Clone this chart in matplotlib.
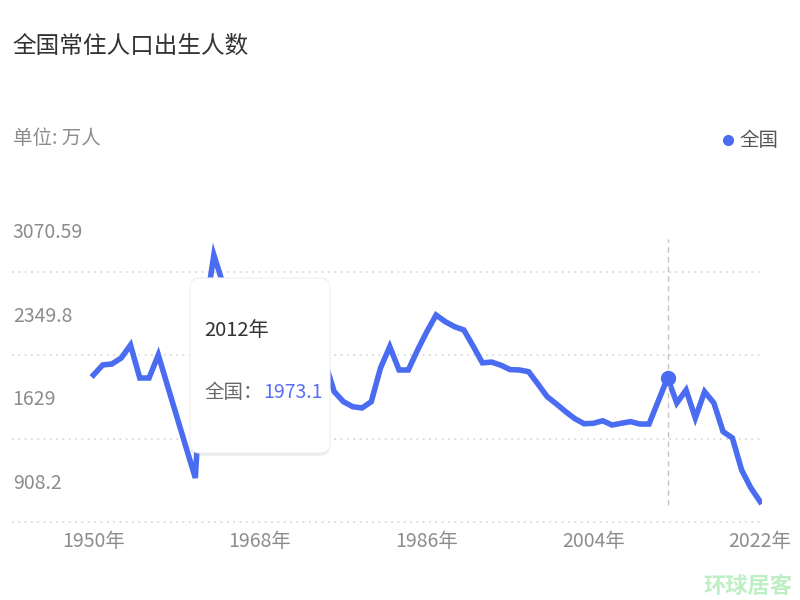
import matplotlib
matplotlib.use("Agg")
import matplotlib.pyplot as plt
from matplotlib.lines import Line2D
from matplotlib.patches import FancyBboxPatch
from matplotlib import transforms
import matplotlib.patheffects as pe

plt.rcParams['font.family'] = ['Noto Sans CJK SC', 'DejaVu Sans']

# 全国常住人口出生人数（万人），1950-2022
years = list(range(1950, 2023))
births = [1997, 2077, 2085, 2133, 2236, 1973, 1973, 2157, 1910, 1665,
          1420, 1176, 2460, 2954, 2720, 2700, 2555, 2545, 2730, 2690,
          2710, 2550, 2550, 2450, 2225, 2100, 1864, 1784, 1744, 1734,
          1784, 2053, 2223, 2037, 2037, 2196, 2342, 2475, 2422, 2382,
          2356, 2228, 2094, 2100, 2075, 2040, 2037, 2023, 1925, 1824,
          1766, 1704, 1648, 1608, 1612, 1632, 1598, 1612, 1625, 1606,
          1606, 1790, 1973.1, 1774, 1877, 1654, 1864, 1774, 1545, 1495,
          1239, 1096, 987]
ytick_vals = [908.2, 1629, 2349.8, 3070.59]
ytick_text = ['908.2', '1629', '2349.8', '3070.59']
xtick_vals = [1950, 1968, 1986, 2004, 2022]
tip_year = 2012
series_name = '全国'

line_color = '#4a6cf0'
fig = plt.figure(figsize=(8, 6), dpi=100)
fig.set_facecolor('white')

# grid axis (labels sit above their dotted lines like the original)
ax_g = fig.add_axes([0.015, 0.125, 0.9375, 0.5417])
ax_g.set_xlim(1941.2, 2022.2)
ax_g.set_ylim(882.3, 3693.4)
ax_g.set_yticks(ytick_vals)
ax_g.set_yticklabels([])
ax_g.yaxis.grid(True, color='#d9d9d9', linestyle=(0, (1, 2.5)), linewidth=1.3)
ax_g.tick_params(axis='y', length=0)
ax_g.set_xticks(xtick_vals)
ax_g.set_xticklabels([f'{y}年' for y in xtick_vals], fontsize=14, color='#8c8c8c')
ax_g.tick_params(axis='x', length=0, pad=4)
for s in ax_g.spines.values():
    s.set_visible(False)

lab_trans = transforms.blended_transform_factory(ax_g.transAxes, ax_g.transData) \
    + transforms.ScaledTranslation(0, 0.39, fig.dpi_scale_trans)
for v, t in zip(ytick_vals, ytick_text):
    ax_g.text(0.001, v, t, transform=lab_trans, ha='left', va='center',
              fontsize=14, color='#8c8c8c')

# line axis
ax = ax_g.twinx()
ax.set_ylim(800.8, 3392.6)
ax.axis('off')
ax.plot(years, births, color=line_color, linewidth=4.0, solid_joinstyle='miter')
ax.axvline(tip_year, ymin=0.0615, ymax=0.88, color='#c4c4c4', linestyle=(0, (4, 3)), linewidth=1)
tip_val = births[years.index(tip_year)]
ax.plot([tip_year], [tip_val], 'o', color=line_color, markersize=10)

# tooltip
box = FancyBboxPatch((190, 147), 140, 175, boxstyle='round,pad=0,rounding_size=10',
                     transform=transforms.IdentityTransform(), facecolor='white',
                     edgecolor='#f0f0f0', linewidth=0.8, zorder=5,
                     path_effects=[pe.SimplePatchShadow(offset=(0, -2), shadow_rgbFace='#999999', alpha=0.18),
                                   pe.Normal()])
fig.add_artist(box)
fig.text(0.255, 0.45, f'{tip_year}年', fontsize=14.5, color='#333333', va='center', zorder=6)
fig.text(0.255, 0.345, f'{series_name}：', fontsize=14, color='#666666', va='center', zorder=6)
fig.text(0.329, 0.345, f'{tip_val}', fontsize=14, color='#5a6ef5', va='center', zorder=6)

# titles
fig.text(0.016, 0.922, '全国常住人口出生人数', fontsize=17, color='#333333', va='center')
fig.text(0.016, 0.77, '单位: 万人', fontsize=14, color='#8c8c8c', va='center')

# legend
handle = Line2D([], [], marker='o', linestyle='', color=line_color, markersize=7, label=series_name)
leg = fig.legend(handles=[handle], loc='center right', bbox_to_anchor=(0.995, 0.765),
                 frameon=False, handletextpad=0.1, handlelength=1.0, fontsize=14)
for t in leg.get_texts():
    t.set_color('#555555')

# watermark
fig.text(0.935, 0.022, '环球居客', fontsize=16, color='#bdeec4', fontweight='bold',
         ha='center', va='center')

fig.savefig('out.png', dpi=100)
